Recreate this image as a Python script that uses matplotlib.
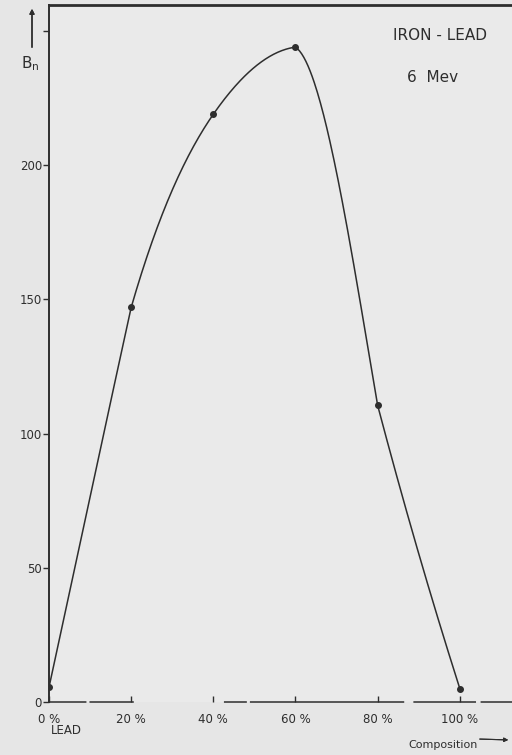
import numpy as np
import matplotlib.pyplot as plt

# iron - lead composition (percent) vs build-up factor Bn at 6 MeV
composition = [0, 20, 40, 60, 80, 100]
bn = [5.5, 147, 219, 244, 110.5, 5]
tick_labels = ["0 %", "20 %", "40 %", "60 %", "80 %", "100 %"]
y_ticks = [0, 50, 100, 150, 200, 250]
y_labels = ["0", "50", "100", "150", "200", ""]

# slopes of the hand-drawn curve on each side of every point (Bn per %),
# read off the picture; the curve has a corner at the 60 % peak
slope_left = [7.1, 7.0, 2.2, 0.2, -9.0, -4.8]
slope_right = [7.1, 5.3, 2.2, -1.0, -5.8, -4.8]


def hermite(x, y, m_out, m_in, n=80):
    xs_all, ys_all = [], []
    for k in range(len(x) - 1):
        h = x[k + 1] - x[k]
        t = np.linspace(0, 1, n)
        h00 = 2 * t**3 - 3 * t**2 + 1
        h10 = t**3 - 2 * t**2 + t
        h01 = -2 * t**3 + 3 * t**2
        h11 = t**3 - t**2
        xs_all.append(x[k] + t * h)
        ys_all.append(h00 * y[k] + h10 * h * m_out[k] + h01 * y[k + 1] + h11 * h * m_in[k + 1])
    return np.concatenate(xs_all), np.concatenate(ys_all)


ink = "#2e2e2e"
plt.rcParams["font.family"] = "DejaVu Sans"

fig = plt.figure(figsize=(5.12, 7.55), dpi=100, facecolor="#e6e6e6")
ax = fig.add_axes([49 / 512, 53 / 755, 1 - 49 / 512, 697 / 755])
ax.set_facecolor("#eaeaea")

cx, cy = hermite(composition, bn, slope_right, slope_left)
ax.plot(cx, cy, color=ink, lw=1.1)
ax.plot(composition, bn, "o", color=ink, ms=4)

ax.set_xlim(0, 112.7)
ax.set_ylim(0, 259.7)

ax.spines["right"].set_visible(False)
ax.spines["top"].set_linewidth(2)
ax.spines["top"].set_color(ink)
ax.spines["left"].set_linewidth(1.4)
ax.spines["left"].set_color(ink)
ax.spines["bottom"].set_linewidth(1.1)
ax.spines["bottom"].set_color(ink)
ax.spines["bottom"].set_linestyle((0, (24, 3, 28, 60, 14, 3, 100, 7, 40, 4, 36, 9)))

ax.set_yticks(y_ticks)
ax.set_yticklabels(y_labels)
ax.tick_params(axis="y", direction="out", length=4, width=1, colors=ink,
               labelsize=8.5, pad=1)
ax.set_xticks(composition)
ax.set_xticklabels(tick_labels)
ax.tick_params(axis="x", direction="in", length=4, width=1, colors=ink,
               labelsize=8.5, pad=8)

ax.text(0.5, -0.032, "LEAD", transform=ax.get_xaxis_transform(),
        fontsize=8.5, color=ink, ha="left", va="top")

ax.text(440 / 512, 1 - 35 / 755, "IRON - LEAD", transform=fig.transFigure,
        fontsize=11, color=ink, ha="center", va="center")
ax.text(433 / 512, 1 - 77 / 755, "6  Mev", transform=fig.transFigure,
        fontsize=11, color=ink, ha="center", va="center")

# y axis label with arrow
fig.text(21 / 512, 1 - 64 / 755, r"$\mathregular{B_n}$", fontsize=11,
         color=ink, ha="left", va="center")
fig.add_artist(plt.annotate("", xy=(32 / 512, 1 - 6 / 755),
                            xytext=(32 / 512, 1 - 50 / 755),
                            xycoords="figure fraction",
                            arrowprops=dict(arrowstyle="-|>", color=ink, lw=1,
                                            mutation_scale=7)))

# x axis label with arrow
fig.text(443 / 512, 1 - 745 / 755, "Composition", fontsize=8, color=ink,
         ha="center", va="center")
fig.add_artist(plt.annotate("", xy=(511 / 512, 1 - 740 / 755),
                            xytext=(477 / 512, 1 - 739 / 755),
                            xycoords="figure fraction",
                            arrowprops=dict(arrowstyle="-|>", color=ink, lw=0.8,
                                            mutation_scale=6)))

fig.savefig("out.png", dpi=100, facecolor=fig.get_facecolor())
